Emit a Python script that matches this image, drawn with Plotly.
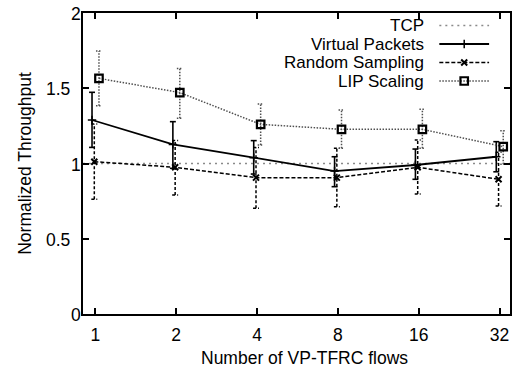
import math
import plotly.graph_objects as go

# ---- data ----
flows = [1, 2, 4, 8, 16, 32]
tick_labels = ["1", "2", "4", "8", "16", "32"]
x_range = [0.9, 35]
y_ticks = [0, 0.5, 1, 1.5, 2]
y_tick_labels = ["0", "0.5", "1", "1.5", "2"]
tcp_level = 1.0

vp_mean = [1.289, 1.127, 1.039, 0.950, 0.990, 1.045]
vp_lo = [1.107, 0.968, 0.930, 0.846, 0.895, 0.945]
vp_hi = [1.473, 1.278, 1.152, 1.045, 1.096, 1.145]

rs_mean = [1.012, 0.975, 0.906, 0.906, 0.975, 0.895]
rs_lo = [0.762, 0.791, 0.702, 0.713, 0.797, 0.718]
rs_hi = [1.262, 1.152, 1.107, 1.101, 1.156, 1.075]

lip_mean = [1.566, 1.471, 1.260, 1.227, 1.227, 1.112]
lip_lo = [1.384, 1.300, 1.123, 1.101, 1.101, 0.995]
lip_hi = [1.747, 1.632, 1.395, 1.355, 1.360, 1.218]

series_names = ["TCP", "Virtual Packets", "Random Sampling", "LIP Scaling"]

# ---- styling ----
FONT = "Liberation Sans, Arial, sans-serif"
FS = 17.5
FS_LEG = 17
PX_PER_OCT = 81.5  # pixels per doubling on x axis
L, R, T, B = 83, 512, 13, 314
W, H = R - L, B - T


def shift(xs, px):
    f = 2 ** (px / PX_PER_OCT)
    return [x * f for x in xs]


def errbars(xs, lo, hi, cap_px=3.0):
    f = 2 ** (cap_px / PX_PER_OCT)
    ex, ey = [], []
    for x, l, h in zip(xs, lo, hi):
        ex += [x, x, None, x / f, x * f, None, x / f, x * f, None]
        ey += [l, h, None, l, l, None, h, h, None]
    return ex, ey


fig = go.Figure()

TCP_LINE = dict(color="#8a8a8a", width=1.5, dash="2px,4px")
VP_LINE = dict(color="black", width=1.8, dash="solid")
RS_LINE = dict(color="black", width=1.5, dash="4px,2px")
LIP_LINE = dict(color="#505050", width=1.5, dash="1.5px,1.5px")

# TCP reference line
fig.add_trace(go.Scatter(x=x_range, y=[tcp_level, tcp_level], mode="lines",
                         line=TCP_LINE, showlegend=False, hoverinfo="skip"))

styles = [
    (vp_mean, vp_lo, vp_hi, -3.3, VP_LINE,
     dict(symbol="cross-thin-open", size=6, color="black", line=dict(color="black", width=1.5)),
     dict(color="black", width=1.6, dash="solid")),
    (rs_mean, rs_lo, rs_hi, -1.0, RS_LINE,
     dict(symbol="x-thin-open", size=6, color="black", line=dict(color="black", width=2)),
     dict(color="black", width=1.5, dash="3px,2px")),
    (lip_mean, lip_lo, lip_hi, 3.7, LIP_LINE,
     dict(symbol="square-open", size=7.5, color="black", line=dict(color="black", width=2.2)),
     dict(color="#505050", width=1.5, dash="1.5px,1.5px")),
]

for mean, lo, hi, off, lstyle, mstyle, estyle in styles:
    xs = shift(flows, off)
    ex, ey = errbars(xs, lo, hi)
    fig.add_trace(go.Scatter(x=ex, y=ey, mode="lines", line=estyle,
                             showlegend=False, hoverinfo="skip"))
    fig.add_trace(go.Scatter(x=xs, y=mean, mode="lines+markers", line=lstyle,
                             marker=mstyle, showlegend=False))

# ---- legend (gnuplot style: text right-aligned, sample to the right) ----
text_right = (428 - L) / W
s0, s1 = (441 - L) / W, (491 - L) / W
row_y = [(B - y) / H for y in (25.5, 44, 62.5, 81)]

leg_line = [TCP_LINE, VP_LINE, RS_LINE, LIP_LINE]
leg_marker = [None, styles[0][5], styles[1][5], styles[2][5]]

for name, yy, ls, mk in zip(series_names, row_y, leg_line, leg_marker):
    fig.add_trace(go.Scatter(x=[s0, s1], y=[yy, yy], mode="lines", line=ls,
                             xaxis="x2", yaxis="y2", showlegend=False, hoverinfo="skip"))
    if mk is not None:
        fig.add_trace(go.Scatter(x=[(s0 + s1) / 2], y=[yy], mode="markers", marker=mk,
                                 xaxis="x2", yaxis="y2", showlegend=False, hoverinfo="skip"))
    fig.add_annotation(x=text_right, y=yy, xref="paper", yref="paper", text=name,
                       showarrow=False, xanchor="right", yanchor="middle",
                       font=dict(family=FONT, size=FS_LEG, color="black"))

# y tick labels (gnuplot-like placement)
for v, s in zip(y_ticks, y_tick_labels):
    left_px = 69 - (len(s) - 1) * 12.65
    fig.add_annotation(x=(left_px - L) / W, y=v, xref="paper", yref="y", text=s,
                       showarrow=False, xanchor="left", yanchor="middle", yshift=-1,
                       font=dict(family=FONT, size=FS, color="black"))

# axis titles
fig.add_annotation(x=(306 - L) / W, y=(B - 358) / H, xref="paper", yref="paper",
                   text="Number of VP-TFRC flows", showarrow=False,
                   xanchor="center", yanchor="middle",
                   font=dict(family=FONT, size=FS, color="black"))
fig.add_annotation(x=(24 - L) / W, y=0.5, xref="paper", yref="paper",
                   text="Normalized Throughput", showarrow=False, textangle=-90,
                   xanchor="center", yanchor="middle",
                   font=dict(family=FONT, size=FS, color="black"))

axis_common = dict(showline=True, linecolor="black", linewidth=1.5, mirror="ticks",
                   ticks="inside", ticklen=6, tickwidth=1.5, tickcolor="black",
                   showgrid=False, zeroline=False,
                   tickfont=dict(family=FONT, size=FS, color="black"))

fig.update_layout(
    width=521, height=372,
    margin=dict(l=L, r=521 - R, t=T, b=372 - B),
    paper_bgcolor="white", plot_bgcolor="white",
    showlegend=False,
    xaxis=dict(type="log", range=[math.log10(x_range[0]), math.log10(x_range[1])],
               tickvals=flows, ticktext=tick_labels, ticklabelstandoff=4, **axis_common),
    yaxis=dict(range=[0, 2], tickvals=y_ticks, showticklabels=False, **axis_common),
    xaxis2=dict(overlaying="x", range=[0, 1], visible=False),
    yaxis2=dict(overlaying="y", range=[0, 1], visible=False),
)

fig.write_html("out.html")
